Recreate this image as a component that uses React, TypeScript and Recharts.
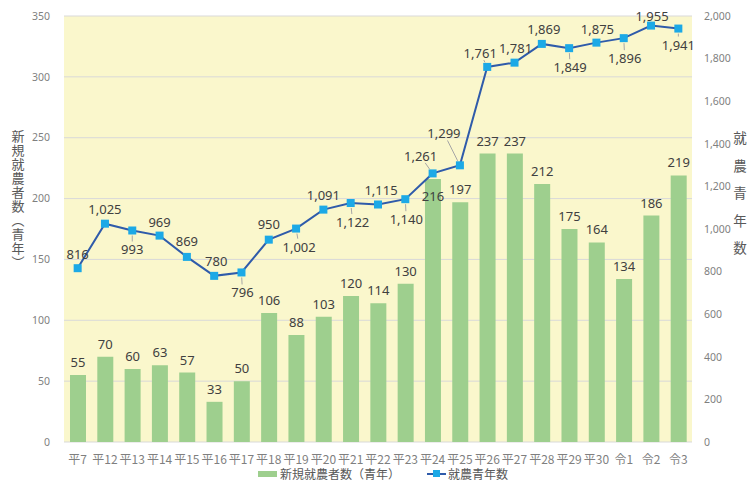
import React from 'react';
import { ComposedChart, Bar, Line, XAxis, YAxis, CartesianGrid, LabelList } from 'recharts';

const years = [
  '平7', '平12', '平13', '平14', '平15', '平16', '平17', '平18', '平19', '平20', '平21', '平22',
  '平23', '平24', '平25', '平26', '平27', '平28', '平29', '平30', '令1', '令2', '令3',
];
const newFarmers = [55, 70, 60, 63, 57, 33, 50, 106, 88, 103, 120, 114, 130, 216, 197, 237, 237, 212, 175, 164, 134, 186, 219];
const youngFarmers = [
  816, 1025, 993, 969, 869, 780, 796, 950, 1002, 1091, 1122, 1115, 1140, 1261, 1299, 1761, 1781, 1869, 1849, 1875, 1896, 1955, 1941,
];
const leftTicks = [0, 50, 100, 150, 200, 250, 300, 350];
const rightTicks = [0, 200, 400, 600, 800, 1000, 1200, 1400, 1600, 1800, 2000];

// where each line label sits relative to its marker, and whether it gets a leader line
const lineLabelOffset: [number, number][] = [
  [0, -14], [0, -15], [0, 19], [0, -14], [0, -16], [2, -15], [1, 20], [0, -16], [3, 18], [0, -15], [2, 19], [3, -15],
  [1, 20], [-12, -17], [-16, -32], [-7, -14], [1, -15], [2, -15], [1, 19], [1, -14], [1, 20], [1, -10], [0, 16],
];
const lineLeader = [
  false, false, true, false, false, false, true, false, true, false, true, false,
  true, true, true, true, false, false, true, false, true, false, true,
];

const data = years.map((name, i) => ({ name, bar: newFarmers[i], line: youngFarmers[i] }));

const GREEN = '#9ECF8E';
const LINE = '#2F5BAA';
const MARK = '#1CA9E6';
const TXT = '#404040';
const TICK = '#7F7F7F';
const NUM_FONT = '"Noto Sans", sans-serif';
const JP_FONT = '"Noto Sans CJK JP", sans-serif';

const SquareDot = (props: any) => {
  const { cx, cy, index } = props;
  if (cx == null || cy == null) return null;
  return <rect key={`dot-${index}`} x={cx - 4} y={cy - 4} width={8} height={8} fill={MARK} />;
};

const BarValue = (props: any) => {
  const { x, y, width, value, index } = props;
  const dy = index === 13 ? 17 : -13;
  return (
    <text x={x + width / 2} y={y + dy} textAnchor="middle" dominantBaseline="central"
      fontSize={13} fontFamily={NUM_FONT} fill={TXT}>
      {value}
    </text>
  );
};

const LineValue = (props: any) => {
  const { x, y, value, index } = props;
  const [dx, dy] = lineLabelOffset[index] || [0, -14];
  const lx = x + dx;
  const ly = y + dy;
  let leader = null;
  if (lineLeader[index]) {
    const d = Math.sqrt(dx * dx + dy * dy);
    const ux = dx / d;
    const uy = dy / d;
    leader = (
      <line x1={x + ux * 5} y1={y + uy * 5} x2={lx - ux * 8} y2={ly - uy * 8} stroke="#A6A6A6" strokeWidth={1} />
    );
  }
  return (
    <g>
      {leader}
      <text x={lx} y={ly} textAnchor="middle" dominantBaseline="central"
        fontSize={13} fontFamily={NUM_FONT} fill={TXT}>
        {Number(value).toLocaleString('en-US')}
      </text>
    </g>
  );
};

const VerticalTitle = ({ text, x, y, size, spacing }: { text: string; x: number; y: number; size: number; spacing: number }) => (
  <text x={x} y={y} textAnchor="middle" fontSize={size} fontFamily={JP_FONT} fill="#595959"
    style={{ writingMode: 'vertical-rl', letterSpacing: spacing }}>
    {text}
  </text>
);

export default function App() {
  return (
    <div style={{ position: 'absolute', left: 0, top: 0, width: 750, height: 481, background: '#fff' }}>
      <ComposedChart width={750} height={481} data={data} margin={{ top: 16, right: 0, left: 0, bottom: 19 }}>
        <CartesianGrid yAxisId="left" vertical={false} stroke="#D9D9D9" fill="#FAF7CC" fillOpacity={1} />
        <XAxis dataKey="name" height={20} axisLine={false} tickLine={false} tickSize={0} tickMargin={13}
          interval={0} tick={{ fontSize: 12, fill: TICK, fontFamily: JP_FONT }} />
        <YAxis yAxisId="left" width={64} domain={[0, 350]} ticks={leftTicks} axisLine={false} tickLine={false}
          tickSize={0} tickMargin={14} tick={{ fontSize: 10.5, fill: TICK, fontFamily: NUM_FONT }}
          label={{ content: () => <VerticalTitle text="新規就農者数（青年）" x={18} y={200} size={13} spacing={1} /> }} />
        <YAxis yAxisId="right" orientation="right" width={58} domain={[0, 2000]} ticks={rightTicks}
          axisLine={false} tickLine={false} tickSize={0} tickMargin={12}
          tickFormatter={(v: number) => v.toLocaleString('en-US')}
          tick={{ fontSize: 10.5, fill: TICK, fontFamily: NUM_FONT, textAnchor: 'start' }}
          label={{ content: () => <VerticalTitle text="就農青年数" x={740} y={200} size={13.5} spacing={14} /> }} />
        <Bar yAxisId="left" dataKey="bar" fill={GREEN} barSize={16} isAnimationActive={false}>
          <LabelList dataKey="bar" content={<BarValue />} />
        </Bar>
        <Line yAxisId="right" dataKey="line" stroke={LINE} strokeWidth={2} dot={<SquareDot />} activeDot={false}
          isAnimationActive={false}>
          <LabelList dataKey="line" content={<LineValue />} />
        </Line>
      </ComposedChart>
      <div style={{ position: 'absolute', left: 0, top: 467, width: 750, height: 14, fontFamily: JP_FONT, fontSize: 12,
        color: '#595959', lineHeight: '14px' }}>
        <span style={{ position: 'absolute', left: 258, top: 4, width: 19, height: 6, background: GREEN }} />
        <span style={{ position: 'absolute', left: 280, top: 0, whiteSpace: 'nowrap' }}>新規就農者数（青年）</span>
        <span style={{ position: 'absolute', left: 427, top: 6, width: 19, height: 2, background: LINE }} />
        <span style={{ position: 'absolute', left: 433, top: 3, width: 7, height: 7, background: MARK }} />
        <span style={{ position: 'absolute', left: 448, top: 0, whiteSpace: 'nowrap' }}>就農青年数</span>
      </div>
    </div>
  );
}
